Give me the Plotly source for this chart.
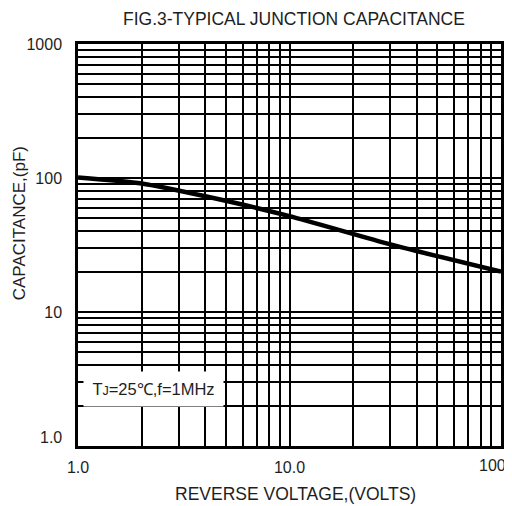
import plotly.graph_objects as go

# ---- data ----
voltage = [1, 2, 4, 10, 30, 100]          # reverse voltage (V)
capacitance = [101, 91, 73, 52, 32, 20]   # junction capacitance (pF)

x_grid = [1, 2, 3, 4, 5, 6, 7, 8, 9, 10, 20, 30, 40, 50, 60, 70, 80, 90, 100]
y_grid = [1, 2, 3, 4, 5, 6, 7, 8, 9, 10, 20, 30, 40, 50, 60, 70, 80, 90,
          100, 200, 300, 400, 500, 600, 700, 800, 900, 1000]
x_labels = {1: "1.0", 10: "10.0"}
y_labels = {10: "10", 100: "100", 1000: "1000"}

FONT = "Liberation Sans, Arial, sans-serif"
TXT = "#1e1e1e"

fig = go.Figure()
fig.add_trace(go.Scatter(
    x=voltage, y=capacitance, mode="lines",
    line=dict(color="black", width=4.5, shape="spline", smoothing=0.6),
    showlegend=False, hoverinfo="skip"))

fig.update_xaxes(
    type="log", range=[0, 2],
    tickvals=x_grid, ticktext=[x_labels.get(v, "") for v in x_grid],
    showgrid=True, gridcolor="black", gridwidth=2,
    showline=True, linecolor="black", linewidth=2.5, mirror=True,
    ticks="", zeroline=False,
    tickfont=dict(family=FONT, size=16, color=TXT), ticklabelstandoff=5)
fig.update_yaxes(
    type="log", range=[0, 3],
    tickvals=y_grid, ticktext=[y_labels.get(v, "") for v in y_grid],
    showgrid=True, gridcolor="black", gridwidth=2,
    showline=True, linecolor="black", linewidth=2.5, mirror=True,
    ticks="", zeroline=False,
    tickfont=dict(family=FONT, size=16, color=TXT), ticklabelstandoff=10)

annotations = [
    dict(text="FIG.3-TYPICAL JUNCTION CAPACITANCE", xref="paper", yref="paper",
         x=0.51, y=1.062, xanchor="center", yanchor="middle", showarrow=False,
         font=dict(family=FONT, size=17.5, color=TXT)),
    dict(text="CAPACITANCE,(pF)", xref="paper", yref="paper",
         x=-0.1385, y=0.555, xanchor="center", yanchor="middle", showarrow=False,
         textangle=-90, font=dict(family=FONT, size=17, color=TXT)),
    dict(text="REVERSE VOLTAGE,(VOLTS)", xref="paper", yref="paper",
         x=0.514, y=-0.12, xanchor="center", yanchor="middle", showarrow=False,
         font=dict(family=FONT, size=17.5, color=TXT)),
    dict(text="1.0", xref="paper", yref="y", x=0, y=0, xanchor="right",
         yanchor="middle", yshift=9, xshift=-14, showarrow=False,
         font=dict(family=FONT, size=16, color=TXT)),
    dict(text="100", xref="paper", yref="paper", x=1, y=0, xanchor="right",
         yanchor="middle", xshift=7, yshift=-19, showarrow=False,
         font=dict(family=FONT, size=16, color=TXT)),
    dict(text="T<span style='font-size:12.5px'>J</span>=25℃,f=1MHz",
         xref="paper", yref="paper", x=0.178, y=0.142,
         xanchor="center", yanchor="middle", showarrow=False,
         width=135, height=30, bgcolor="white", borderpad=2,
         font=dict(family=FONT, size=16.5, color=TXT)),
]

# the page body adds an 8px margin, so the figure is sized to fit the window
fig.update_layout(
    width=504, height=498,
    margin=dict(l=70, r=8, t=36, b=60),
    paper_bgcolor="white", plot_bgcolor="white",
    annotations=annotations, showlegend=False)

fig.write_html("out.html")
